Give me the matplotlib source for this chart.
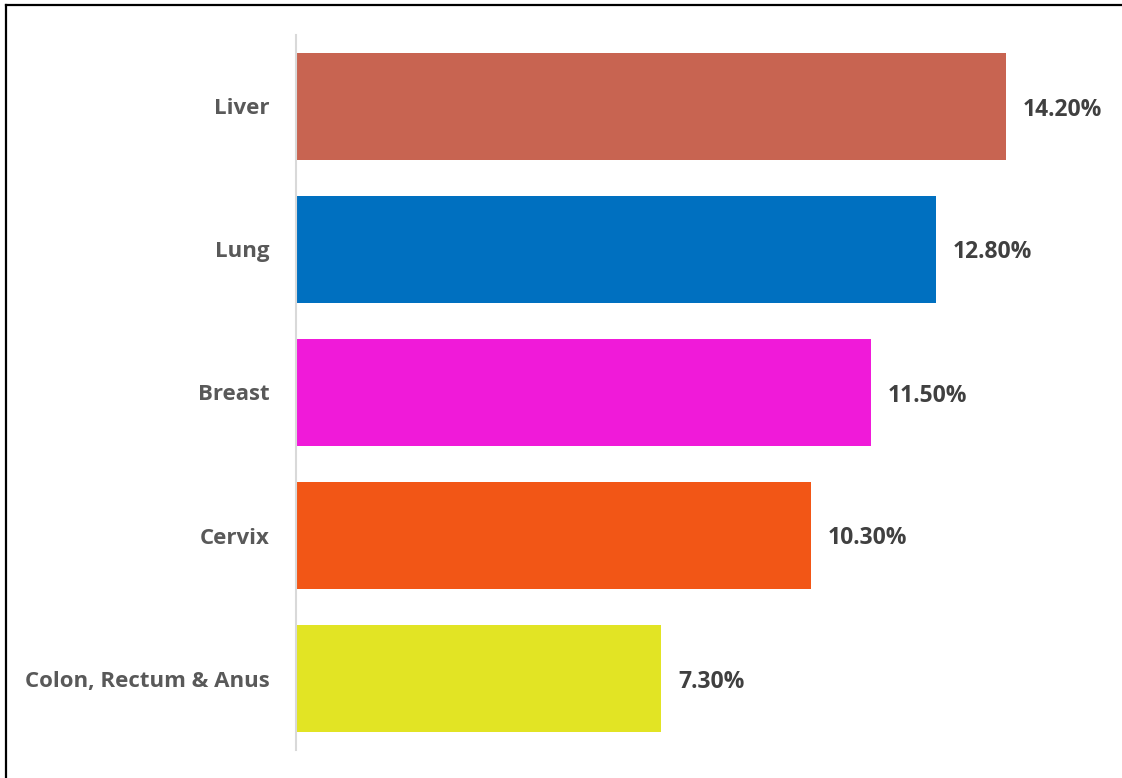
import matplotlib.pyplot as plt
from matplotlib.lines import Line2D

# Cancer share by site
sites = ["Liver", "Lung", "Breast", "Cervix", "Colon, Rectum & Anus"]
shares = [14.2, 12.8, 11.5, 10.3, 7.3]
colors = ["#C86451", "#0070C0", "#F01AD9", "#F25616", "#E2E424"]

plt.rcParams['font.family'] = ['Open Sans', 'DejaVu Sans']

fig = plt.figure(figsize=(11.22, 7.78), dpi=100)
W, H = 1122, 778
# axes placed in pixel terms: left edge at the zero line
ax = fig.add_axes([296 / W, 1 - 750 / H, 800 / W, 715 / H])

y = range(len(sites))
ax.barh(y, shares, height=0.75, color=colors)
ax.set_ylim(4.5, -0.5)
ax.set_xlim(0, 16)

for i, v in enumerate(shares):
    ax.text(v + 0.34, i, f"{v:.2f}%", va="center_baseline", ha="left",
            fontsize=16.5, fontweight="bold", color="#404040")

ax.set_yticks(list(y))
ax.set_yticklabels(sites, fontsize=16, fontweight="bold", color="#595959")
ax.tick_params(axis="y", length=0, pad=19)
ax.set_xticks([])

for s in ["top", "right", "bottom"]:
    ax.spines[s].set_visible(False)
ax.spines["left"].set_color("#D9D9D9")
ax.spines["left"].set_linewidth(1.5)

# frame lines along left and top edges
fig.add_artist(Line2D([6 / W, 6 / W], [0, 1 - 5 / H], color="black", lw=1.6,
                      transform=fig.transFigure))
fig.add_artist(Line2D([6 / W, 1], [1 - 5 / H, 1 - 5 / H], color="black", lw=1.6,
                      transform=fig.transFigure))

fig.savefig("out.png", dpi=100)
